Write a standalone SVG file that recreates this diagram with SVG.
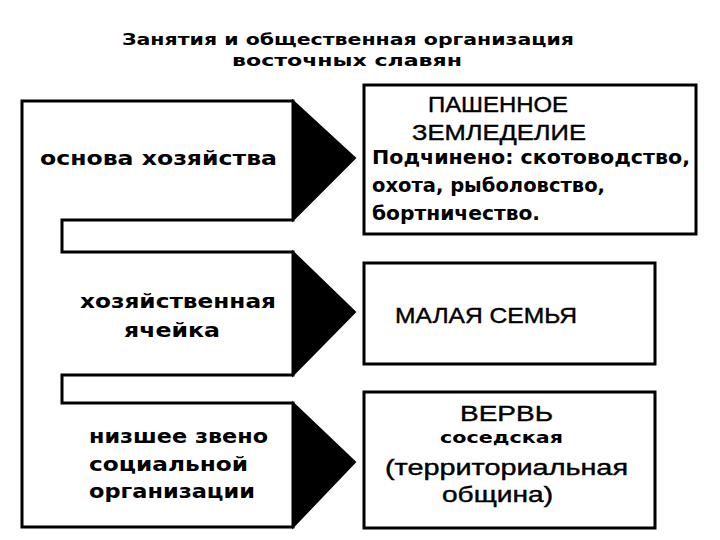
<svg xmlns="http://www.w3.org/2000/svg" width="720" height="540" viewBox="0 0 720 540">
<style>
text{font-family:"DejaVu Sans","Liberation Sans",sans-serif;font-weight:bold;fill:#000}
.box{fill:#fff;stroke:#000;stroke-width:3}
.arr{fill:#000;stroke:#000;stroke-width:2}
.t20{font-size:19px}
.t22{font-family:"Liberation Sans",Arial,sans-serif;font-size:22px;font-weight:normal;stroke:#000;stroke-width:0.4}
</style>
<rect width="720" height="540" fill="#fff"/>
<g id="title">
<text x="348" y="45" font-size="16" text-anchor="middle" textLength="452" lengthAdjust="spacingAndGlyphs">Занятия и общественная организация</text>
<text x="347" y="66" font-size="16" text-anchor="middle" textLength="230" lengthAdjust="spacingAndGlyphs">восточных  славян</text>
</g>
<g id="left-panel">
<path class="box" d="M22,101 H293 V220 H62 V252 H293 V375 H62 V403 H293 V527 H22 Z"/>
</g>
<g id="node-osnova">
<text class="t20" x="40" y="165" textLength="237" lengthAdjust="spacingAndGlyphs">основа хозяйства</text>
</g>
<g id="node-yacheika">
<text class="t20" x="80" y="308" textLength="196" lengthAdjust="spacingAndGlyphs">хозяйственная</text>
<text class="t20" x="124" y="337" textLength="96" lengthAdjust="spacingAndGlyphs">ячейка</text>
</g>
<g id="node-zveno">
<text class="t20" x="89" y="443" textLength="179" lengthAdjust="spacingAndGlyphs">низшее звено</text>
<text class="t20" x="89" y="471" textLength="159" lengthAdjust="spacingAndGlyphs">социальной</text>
<text class="t20" x="89" y="498" textLength="166" lengthAdjust="spacingAndGlyphs">организации</text>
</g>
<g id="connectors">
<polygon class="arr" points="293,101 355,158 293,220"/>
<polygon class="arr" points="293,252 355,312 293,375"/>
<polygon class="arr" points="293,403 355,462 293,527"/>
</g>
<g id="node-zemledelie">
<rect class="box" x="364" y="85" width="332" height="149"/>
<text class="t22" x="428" y="112" textLength="140" lengthAdjust="spacingAndGlyphs">ПАШЕННОЕ</text>
<text class="t22" x="412" y="140" textLength="174" lengthAdjust="spacingAndGlyphs">ЗЕМЛЕДЕЛИЕ</text>
<text class="t20" x="372" y="164" textLength="318" lengthAdjust="spacingAndGlyphs">Подчинено: скотоводство,</text>
<text class="t20" x="372" y="192" textLength="233" lengthAdjust="spacingAndGlyphs">охота, рыболовство,</text>
<text class="t20" x="372" y="220" textLength="168" lengthAdjust="spacingAndGlyphs">бортничество.</text>
</g>
<g id="node-semya">
<rect class="box" x="364" y="263" width="291" height="101"/>
<text class="t22" x="395" y="323" textLength="182" lengthAdjust="spacingAndGlyphs">МАЛАЯ СЕМЬЯ</text>
</g>
<g id="node-verv">
<rect class="box" x="364" y="392" width="291" height="136"/>
<text class="t22" x="460" y="421" textLength="93" lengthAdjust="spacingAndGlyphs">ВЕРВЬ</text>
<text x="440" y="443" font-size="15" textLength="123" lengthAdjust="spacingAndGlyphs">соседская</text>
<text class="t22" x="385" y="475" textLength="243" lengthAdjust="spacingAndGlyphs">(территориальная</text>
<text class="t22" x="442" y="502" textLength="111" lengthAdjust="spacingAndGlyphs">община)</text>
</g>
</svg>
